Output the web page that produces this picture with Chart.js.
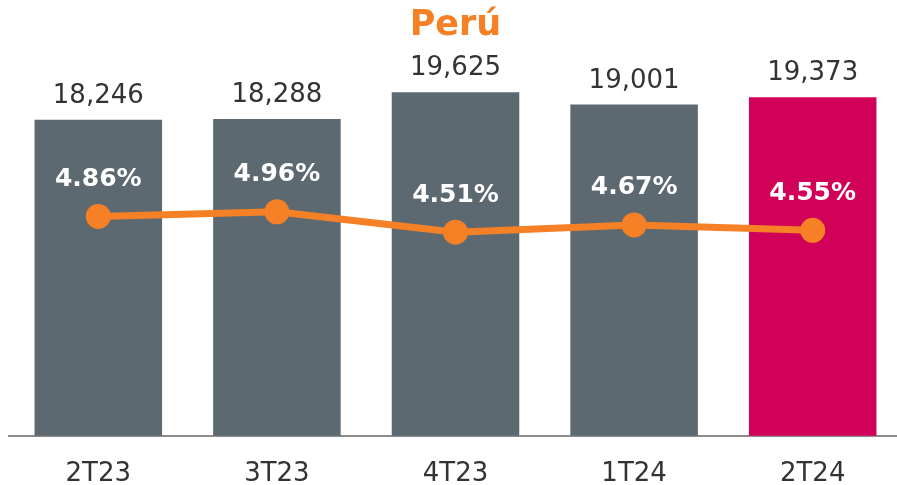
<!DOCTYPE html>
<html>
<head>
<meta charset="utf-8">
<script src="https://cdn.jsdelivr.net/npm/chart.js@4/dist/chart.umd.min.js"></script>
<style>
    html, body { margin: 0; padding: 0; background: #fff; overflow: hidden; }
    canvas { display: block; }
</style>
</head>
<body>
<canvas id="myChart" width="904" height="504"></canvas>
<script>
var quarters = ['2T23', '3T23', '4T23', '1T24', '2T24'];
var balances = [18246, 18288, 19625, 19001, 19373];
var rates = [4.86, 4.96, 4.51, 4.67, 4.55];
var barColors = ['#5D6970', '#5D6970', '#5D6970', '#5D6970', '#D10058'];
var orange = '#F58025';

// draws the numbers over the bars and the rates over the points
var valueLabels = {
    id: 'valueLabels',
    afterDatasetsDraw: function(chart) {
        var ctx = chart.ctx;
        var bars = chart.getDatasetMeta(1).data;
        var points = chart.getDatasetMeta(0).data;
        ctx.save();
        ctx.textAlign = 'center';
        ctx.textBaseline = 'alphabetic';
        ctx.font = '26px "DejaVu Sans"';
        ctx.fillStyle = '#333333';
        bars.forEach(function(bar, i) {
            ctx.fillText(balances[i].toLocaleString('en-US'), bar.x, bar.y - 17);
        });
        ctx.textBaseline = 'middle';
        ctx.font = 'bold 25px "DejaVu Sans"';
        ctx.fillStyle = '#ffffff';
        points.forEach(function(pt, i) {
            ctx.fillText(rates[i].toFixed(2) + '%', pt.x, pt.y - 37);
        });
        ctx.restore();
    }
};

var ctx = document.getElementById('myChart');
var myChart = new Chart(ctx, {
    type: 'bar',
    data: {
        labels: quarters,
        datasets: [{
            type: 'line',
            data: rates,
            yAxisID: 'y2',
            borderColor: orange,
            backgroundColor: orange,
            borderWidth: 7,
            pointRadius: 12.5,
            pointHoverRadius: 12.5,
            pointBorderWidth: 0,
            tension: 0,
            order: 0
        }, {
            data: balances,
            yAxisID: 'y',
            backgroundColor: barColors,
            barPercentage: 0.714,
            categoryPercentage: 1,
            order: 1
        }]
    },
    options: {
        responsive: false,
        animation: false,
        layout: { autoPadding: false, padding: { left: 9, right: 2, bottom: 0, top: 0 } },
        plugins: {
            legend: { display: false },
            tooltip: { enabled: false },
            title: {
                display: true,
                text: 'Perú',
                color: orange,
                font: { family: '"DejaVu Sans"', size: 35, weight: 'bold' },
                padding: { top: 5, bottom: 17 }
            }
        },
        scales: {
            x: {
                grid: { display: false },
                border: { display: true, color: '#8c8c8c', width: 2 },
                ticks: {
                    color: '#333333',
                    padding: 14.5,
                    font: { family: '"DejaVu Sans"', size: 26 }
                }
            },
            y: {
                display: false,
                min: 2460,
                max: 21030
            },
            y2: {
                display: false,
                min: 0,
                max: 8.235
            }
        }
    },
    plugins: [valueLabels]
});
</script>
</body>
</html>
